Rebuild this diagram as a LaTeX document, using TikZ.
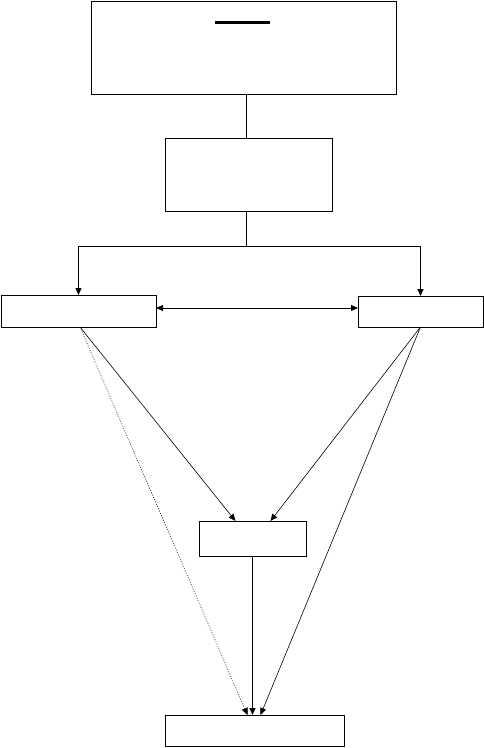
\documentclass[tikz,border=0pt]{standalone}
\usetikzlibrary{positioning, arrows.meta}

\begin{document}
\begin{tikzpicture}[
    x=1pt, y=-1pt,
    box/.style={rectangle, draw, line width=0.9pt, inner sep=0pt, outer sep=0pt},
    link/.style={-{Triangle[length=7pt, width=6pt]}, line width=0.9pt},
    thinlink/.style={-{Triangle[length=7pt, width=6pt]}, line width=0.6pt},
]
\useasboundingbox (0,0) rectangle (484,748);

\node [box, minimum width=305pt, minimum height=93pt] (top) at (243.5,47.5) {};
\node [box, minimum width=167pt, minimum height=73pt, below=44pt of top, xshift=5pt] (mid) {};
\node [box, minimum width=155pt, minimum height=32pt, below left=84pt and 9pt of mid] (left) {};
\node [box, minimum width=125pt, minimum height=31pt, below right=85pt and 26pt of mid] (right) {};
\node [box, minimum width=107pt, minimum height=35pt, below=310pt of mid, xshift=4pt] (center) {};
\node [box, minimum width=179pt, minimum height=31pt, below=159pt of center, xshift=2pt] (bottom) {};

% title rule in the top box
\draw [line width=2.2pt] ([xshift=-28.5pt, yshift=-21.5pt]top.north) -- ([xshift=26.5pt, yshift=-21.5pt]top.north);

\coordinate (fork) at (246,246);

\draw [line width=0.9pt] (fork |- top.south) -- (fork |- mid.north);
\draw [line width=0.9pt] (fork |- mid.south) -- (fork);
\draw [link] (fork) -| (left.north);
\draw [link] (fork) -| (right.north);
\draw [{Triangle[length=7pt, width=6pt]}-{Triangle[length=7pt, width=6pt]}, line width=0.9pt]
    ([yshift=3pt]left.east) -- ([yshift=3pt]left.east -| right.west);

\draw [thinlink] ([xshift=1.5pt]left.south) -- ([xshift=-17pt]center.north);
\draw [thinlink] (right.south) -- ([xshift=18pt]center.north);
\draw [thinlink, line width=0.5pt, dash pattern=on 1pt off 1.5pt] ([xshift=1.5pt]left.south) -- ([xshift=-7pt]bottom.north);
\draw [thinlink] (right.south) -- ([xshift=6pt]bottom.north);
\draw [link] (center.south) -- (center.south |- bottom.north);
\end{tikzpicture}
\end{document}
